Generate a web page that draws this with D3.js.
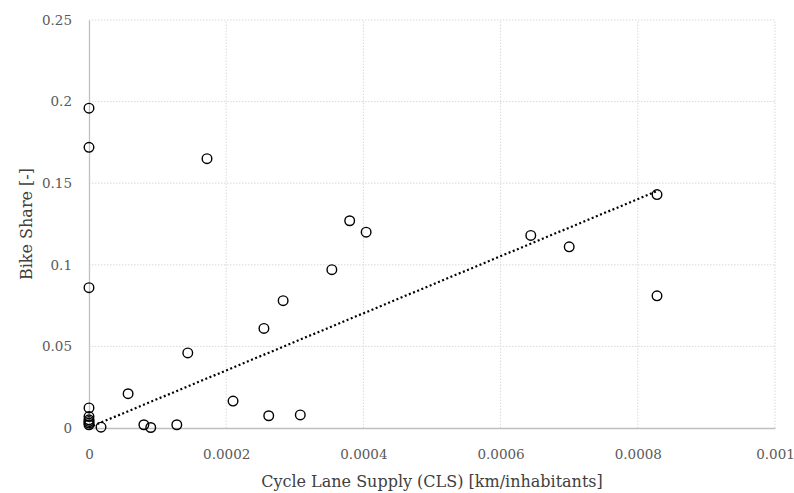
<!DOCTYPE html>
<html>
<head>
<meta charset="utf-8">
<script src="https://cdn.jsdelivr.net/npm/d3@7"></script>
<style>
  body { margin: 0; background: #fff; }
  svg text { font-family: "DejaVu Serif", "Liberation Serif", serif; }
</style>
</head>
<body>
<script>
// values
var cls = [0, 0, 0, 0, 0, 0, 0, 0, 0,
    0.0000175, 0.000057, 0.00008, 0.00009, 0.000128, 0.000144, 0.000172,
    0.00021, 0.000255, 0.000262, 0.000283, 0.000308, 0.000354, 0.00038,
    0.000404, 0.000644, 0.0007, 0.000828, 0.000828];
var bikeShare = [0.196, 0.172, 0.086, 0.0123, 0.007, 0.005, 0.004, 0.003, 0.002,
    0.0005, 0.021, 0.002, 0.0003, 0.002, 0.046, 0.165,
    0.0165, 0.061, 0.0075, 0.078, 0.008, 0.097, 0.127,
    0.120, 0.118, 0.111, 0.143, 0.081];
var trendX = [0, 0.00083];
var trendY = [0.0003, 0.1455];
var xTicks = [0, 0.0002, 0.0004, 0.0006, 0.0008, 0.001];
var yTicks = [0, 0.05, 0.1, 0.15, 0.2, 0.25];

var width = 794;
var height = 493;
var margin = {left: 89, right: 19, top: 20, bottom: 65};

var svg = d3.select('body').append('svg')
    .attr('width', width)
    .attr('height', height);

var x = d3.scaleLinear().domain([0, 0.001]).range([margin.left, width - margin.right]);
var y = d3.scaleLinear().domain([0, 0.25]).range([height - margin.bottom, margin.top]);

// gridlines
svg.append('g').selectAll('line.h')
    .data(yTicks.slice(1))
    .enter().append('line')
    .attr('x1', x(0)).attr('x2', x(0.001))
    .attr('y1', function(d){ return y(d); })
    .attr('y2', function(d){ return y(d); })
    .attr('stroke', '#d9d9d9')
    .attr('stroke-dasharray', '1.5,1.5');

svg.append('g').selectAll('line.v')
    .data(xTicks.slice(1))
    .enter().append('line')
    .attr('y1', y(0)).attr('y2', y(0.25))
    .attr('x1', function(d){ return x(d); })
    .attr('x2', function(d){ return x(d); })
    .attr('stroke', '#d9d9d9')
    .attr('stroke-dasharray', '1.5,1.5');

// axes
var xAxis = svg.append('g')
    .attr('transform', 'translate(0,' + y(0) + ')')
    .call(d3.axisBottom(x).tickValues(xTicks).tickSize(0).tickPadding(21)
        .tickFormat(function(d){ return String(+d.toFixed(4)); }));
var yAxis = svg.append('g')
    .attr('transform', 'translate(' + x(0) + ',0)')
    .call(d3.axisLeft(y).tickValues(yTicks).tickSize(0).tickPadding(17)
        .tickFormat(function(d){ return String(+d.toFixed(2)); }));

[xAxis, yAxis].forEach(function(a){
    a.select('.domain').attr('stroke', '#bfbfbf').attr('stroke-width', 1.3);
    a.selectAll('text').attr('fill', '#595959').style('font-size', '13.5px');
});

// trendline
svg.append('line')
    .attr('x1', x(trendX[0])).attr('y1', y(trendY[0]))
    .attr('x2', x(trendX[1])).attr('y2', y(trendY[1]))
    .attr('stroke', '#000')
    .attr('stroke-width', 2.2)
    .attr('stroke-dasharray', '2,2.5');

// points
svg.append('g').selectAll('circle')
    .data(cls)
    .enter().append('circle')
    .attr('cx', function(d){ return x(d); })
    .attr('cy', function(d, i){ return y(bikeShare[i]); })
    .attr('r', 4.8)
    .attr('fill', 'none')
    .attr('stroke', '#000')
    .attr('stroke-width', 1.4);

// titles
svg.append('text')
    .attr('x', (x(0) + x(0.001)) / 2)
    .attr('y', 487)
    .attr('text-anchor', 'middle')
    .attr('fill', '#404040')
    .style('font-size', '16px')
    .text('Cycle Lane Supply (CLS) [km/inhabitants]');

svg.append('text')
    .attr('transform', 'translate(32,' + ((y(0) + y(0.25)) / 2) + ') rotate(-90)')
    .attr('text-anchor', 'middle')
    .attr('fill', '#404040')
    .style('font-size', '16px')
    .text('Bike Share [-]');
</script>
</body>
</html>
